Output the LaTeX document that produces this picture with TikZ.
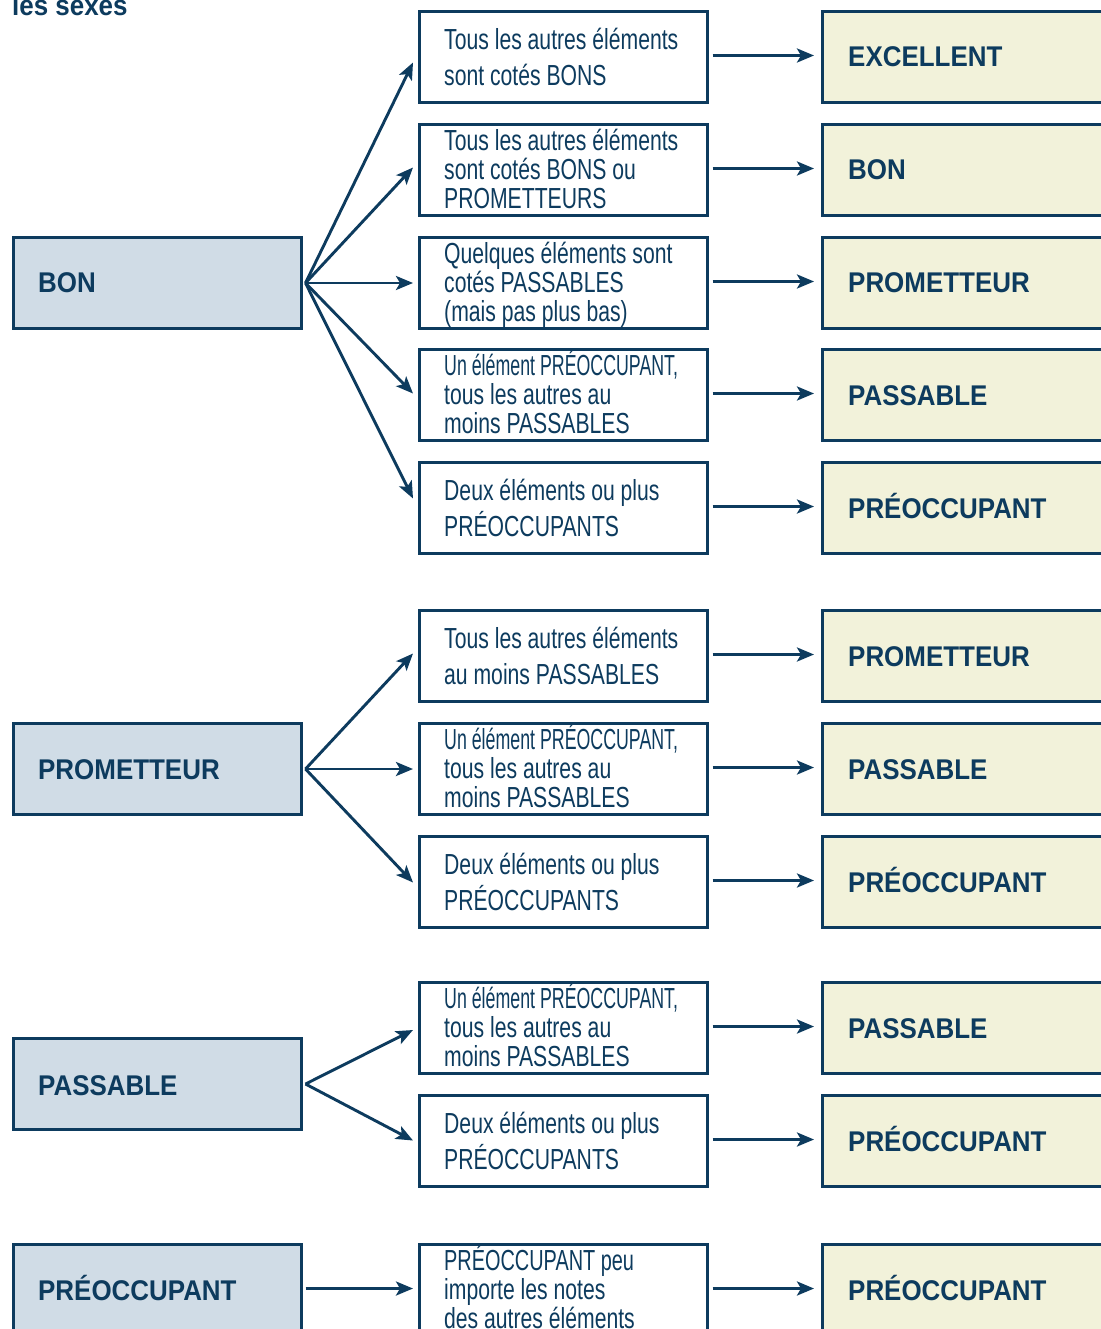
\documentclass[tikz,border=0pt]{standalone}
\usepackage{fontspec}
\usepackage{graphicx}
\usetikzlibrary{arrows.meta}
\newfontfamily\lblfont[FakeStretch=0.91]{Liberation Sans}
\newfontfamily\midfont[FakeStretch=0.73]{Liberation Sans}
\definecolor{dblue}{HTML}{0D3B5E}
\definecolor{lfill}{HTML}{D0DCE6}
\definecolor{rfill}{HTML}{F2F2DA}
\newcommand{\preoc}{\scalebox{0.84}[1]{Un élément PRÉOCCUPANT,}}
\tikzset{
  boxbase/.style={draw=dblue, line width=3pt, anchor=north west, inner sep=0pt,
    outer sep=0pt, minimum height=91pt},
  lbox/.style={boxbase, fill=lfill, minimum width=288pt},
  mbox/.style={boxbase, fill=white, minimum width=288pt},
  rbox/.style={boxbase, fill=rfill, minimum width=300pt},
  lbl/.style={anchor=base west, inner sep=0pt, text=dblue,
    font=\lblfont\bfseries\fontsize{28.5}{30}\selectfont},
  mthree/.style={anchor=base west, inner sep=0pt, text=dblue, align=left,
    font=\midfont\fontsize{29}{29}\selectfont},
  mtwo/.style={anchor=base west, inner sep=0pt, text=dblue, align=left,
    font=\midfont\fontsize{29}{36}\selectfont},
  arr/.style={draw=dblue, line width=2.9pt,
    -{Stealth[length=17pt,width=14pt,inset=4pt]}}
}
\begin{document}
\begin{tikzpicture}[x=1pt,y=-1pt]
\useasboundingbox (0,0) rectangle (1100,1329);
\fill[white] (0,0) rectangle (1100,1329);

\node[lbl] (title) at (12,16) {les sexes};

% left boxes
\node[lbox] (L1) at (13.5,237.5) {};
\node[lbox] (L2) at (13.5,723.5) {};
\node[lbox] (L3) at (13.5,1038.5) {};
\node[lbox] (L4) at (13.5,1244.5) {};
\node[lbl] (tL1) at (38,293) {BON};
\node[lbl] (tL2) at (38,779) {PROMETTEUR};
\node[lbl] (tL3) at (38,1095) {PASSABLE};
\node[lbl] (tL4) at (38,1300) {PRÉOCCUPANT};

% middle boxes
\node[mbox] (M1) at (419.5,11.5) {};
\node[mbox] (M2) at (419.5,124.5) {};
\node[mbox] (M3) at (419.5,237.5) {};
\node[mbox] (M4) at (419.5,349.5) {};
\node[mbox] (M5) at (419.5,462.5) {};
\node[mbox] (M6) at (419.5,610.5) {};
\node[mbox] (M7) at (419.5,723.5) {};
\node[mbox] (M8) at (419.5,836.5) {};
\node[mbox] (M9) at (419.5,982.5) {};
\node[mbox] (M10) at (419.5,1095.5) {};
\node[mbox] (M11) at (419.5,1244.5) {};

% (base = last line)
\node[mtwo] (tM1) at (444,86) {Tous les autres éléments\\sont cotés BONS};
\node[mthree] (tM2) at (444,208.5) {Tous les autres éléments\\sont cotés BONS ou\\PROMETTEURS};
\node[mthree] (tM3) at (444,321.5) {Quelques éléments sont\\cotés PASSABLES\\(mais pas plus bas)};
\node[mthree] (tM4) at (444,433.5) {\preoc\\tous les autres au\\moins PASSABLES};
\node[mtwo] (tM5) at (444,536) {Deux éléments ou plus\\PRÉOCCUPANTS};
\node[mtwo] (tM6) at (444,684) {Tous les autres éléments\\au moins PASSABLES};
\node[mthree] (tM7) at (444,807.5) {\preoc\\tous les autres au\\moins PASSABLES};
\node[mtwo] (tM8) at (444,910) {Deux éléments ou plus\\PRÉOCCUPANTS};
\node[mthree] (tM9) at (444,1066.5) {\preoc\\tous les autres au\\moins PASSABLES};
\node[mtwo] (tM10) at (444,1169) {Deux éléments ou plus\\PRÉOCCUPANTS};
\node[mthree] (tM11) at (444,1328.5) {\scalebox{0.94}[1]{PRÉOCCUPANT peu}\\importe les notes\\des autres éléments};

% right boxes
\node[rbox] (R1) at (822.5,11.5) {};
\node[rbox] (R2) at (822.5,124.5) {};
\node[rbox] (R3) at (822.5,237.5) {};
\node[rbox] (R4) at (822.5,349.5) {};
\node[rbox] (R5) at (822.5,462.5) {};
\node[rbox] (R6) at (822.5,610.5) {};
\node[rbox] (R7) at (822.5,723.5) {};
\node[rbox] (R8) at (822.5,836.5) {};
\node[rbox] (R9) at (822.5,982.5) {};
\node[rbox] (R10) at (822.5,1095.5) {};
\node[rbox] (R11) at (822.5,1244.5) {};

\node[lbl] (tR1) at (848,67) {EXCELLENT};
\node[lbl] (tR2) at (848,180) {BON};
\node[lbl] (tR3) at (848,293) {PROMETTEUR};
\node[lbl] (tR4) at (848,405) {PASSABLE};
\node[lbl] (tR5) at (848,518) {PRÉOCCUPANT};
\node[lbl] (tR6) at (848,666) {PROMETTEUR};
\node[lbl] (tR7) at (848,779) {PASSABLE};
\node[lbl] (tR8) at (848,892) {PRÉOCCUPANT};
\node[lbl] (tR9) at (848,1038) {PASSABLE};
\node[lbl] (tR10) at (848,1151) {PRÉOCCUPANT};
\node[lbl] (tR11) at (848,1300) {PRÉOCCUPANT};

% fan arrows
\draw[arr] ([xshift=4pt]L1.east) -- ([shift={(-6.5,5.5)}]M1.west);
\draw[arr] ([xshift=4pt]L1.east) -- ([shift={(-6.5,-2.5)}]M2.west);
\draw[arr] ([xshift=4pt]L1.east) -- ([shift={(-6.5,0)}]M3.west);
\draw[arr] ([xshift=4pt]L1.east) -- ([shift={(-6.5,-1.5)}]M4.west);
\draw[arr] ([xshift=4pt]L1.east) -- ([shift={(-6.5,-9.5)}]M5.west);
\draw[arr] ([xshift=4pt]L2.east) -- ([shift={(-6.5,-2.5)}]M6.west);
\draw[arr] ([xshift=4pt]L2.east) -- ([shift={(-6.5,0)}]M7.west);
\draw[arr] ([xshift=4pt]L2.east) -- ([shift={(-6.5,0.5)}]M8.west);
\draw[arr] ([xshift=4pt]L3.east) -- ([shift={(-6.5,2)}]M9.west);
\draw[arr] ([xshift=4pt]L3.east) -- ([shift={(-6.5,-0.5)}]M10.west);
\draw[arr] ([shift={(4,-1.5)}]L4.east) -- ([shift={(-6.5,-1.5)}]M11.west);

% right arrows
\foreach \i in {1,...,11}{
  \draw[arr] ([shift={(5,-1.5)}]M\i.east) -- ([shift={(-8.5,-1.5)}]R\i.west);
}
\end{tikzpicture}
\end{document}
